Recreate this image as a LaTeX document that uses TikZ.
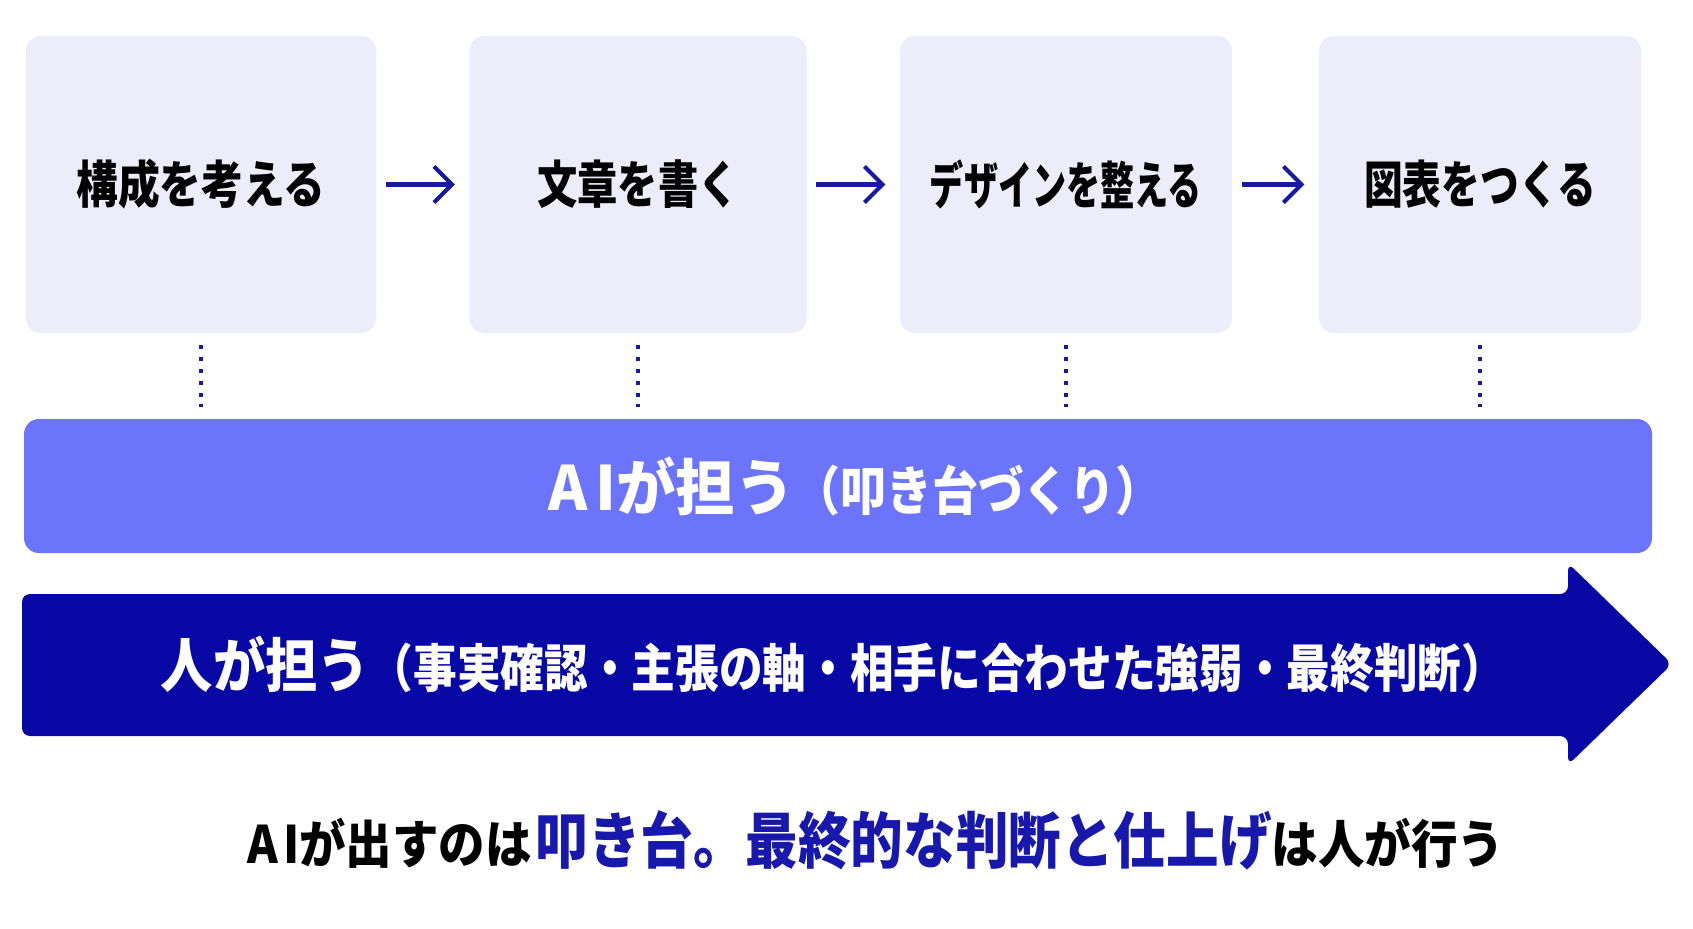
\documentclass[tikz,border=0pt]{standalone}
\usepackage{fontspec}
\setmainfont{Noto Sans CJK JP}
\usepackage{xcolor}
\usepackage{graphicx}
\usepackage{tikz}
\usetikzlibrary{positioning,arrows.meta}

\definecolor{cardbg}{RGB}{236,236,250}
\definecolor{aiblue}{RGB}{107,116,250}
\definecolor{deepblue}{RGB}{8,8,165}
\definecolor{navy}{RGB}{25,25,160}
\definecolor{accent}{RGB}{24,24,170}

% narrow, tall lettering
\newcommand{\narrow}[3]{{\fontsize{#2}{#2}\selectfont\scalebox{#1}[1]{#3}}}

\begin{document}
\begin{tikzpicture}[
    card/.style={fill=cardbg, rounded corners=0.15cm, minimum height=2.97cm, inner sep=0pt,
      font=\bfseries},
    flow/.style={draw=navy, line width=1.15pt, -{Straight Barb[length=1.8mm,width=3.6mm]},
      shorten <=0.09cm, shorten >=0.14cm},
    tick/.style={draw=navy, line width=1.15pt, dash pattern=on 1.15pt off 2.25pt,
      shorten <=0.11cm, shorten >=0.11cm}]
    \useasboundingbox[fill=white] (0,0) rectangle (16.93,-9.29);

    % steps
    \node[card, minimum width=3.50cm] (box1) at (2.01,-1.845) {\narrow{0.82}{14.5}{構成を考える}};
    \node[card, minimum width=3.37cm] (box2) at (6.38,-1.845) {\narrow{0.79}{14.5}{文章を書く}};
    \node[card, minimum width=3.32cm] (box3) at (10.66,-1.845) {\narrow{0.67}{14.5}{デザインを整える}};
    \node[card, minimum width=3.22cm] (box4) at (14.80,-1.845) {\narrow{0.76}{14.5}{図表をつくる}};
    \draw[flow] (box1) -- (box2);
    \draw[flow] (box2) -- (box3);
    \draw[flow] (box3) -- (box4);

    % AI bar
    \node[fill=aiblue, rounded corners=0.15cm, minimum width=16.28cm, minimum height=1.34cm,
      label={[text=white, font=\bfseries, xshift=0.17cm]center:%
        \narrow{0.97}{17.4}{A\kern0.14em Iが担う}\narrow{0.87}{15}{（叩き台づくり）}}] (ai) at (8.38,-4.86) {};
    \foreach \b in {box1,box2,box3,box4}
      \draw[tick] (\b.south) -- (\b.south |- ai.north);

    % human arrow
    \fill[deepblue, rounded corners=0.08cm] (0.22,-5.94) -- (15.68,-5.94) -- (15.68,-5.63)
      -- (16.72,-6.64) -- (15.68,-7.65) -- (15.68,-7.36) -- (0.22,-7.36) -- cycle;
    \node[text=white, font=\bfseries] (human) at (8.33,-6.64)
      {\narrow{0.89}{16.7}{人が担う}\narrow{0.845}{14.7}{（事実確認・主張の軸・相手に合わせた強弱・最終判断）}};

    % message
    \node[font=\bfseries] (msg) at (8.76,-8.40)
      {\narrow{0.9}{14.7}{A\kern0.1em Iが出すのは}\hspace{0.1em}\textcolor{accent}{\narrow{0.86}{17.4}{叩き台。最終的な判断と仕上げ}}\narrow{0.9}{14.7}{は人が行う}};
\end{tikzpicture}
\end{document}
